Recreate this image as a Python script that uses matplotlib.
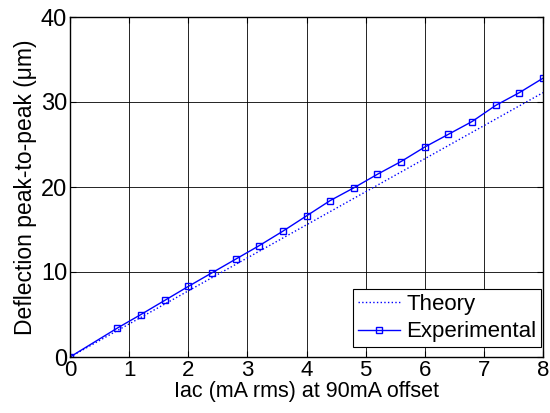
import matplotlib
matplotlib.use("Agg")
import matplotlib.pyplot as plt

plt.rcParams['font.family'] = ['Liberation Sans', 'DejaVu Sans']

x_exp = [0.0, 0.8, 1.2, 1.6, 2.0, 2.4, 2.8, 3.2, 3.6, 4.0, 4.4, 4.8, 5.2, 5.6, 6.0, 6.4, 6.8, 7.2, 7.6, 8.0]
y_exp = [0.0, 3.4, 5.0, 6.65, 8.3, 9.9, 11.5, 13.1, 14.8, 16.6, 18.4, 19.9, 21.5, 23.0, 24.7, 26.2, 27.7, 29.6, 31.1, 32.8]
x_theory = [0.0, 8.0]
y_theory = [0.0, 31.1]

fig = plt.figure(figsize=(5.5, 4.13), dpi=100)
ax = fig.add_axes([70/550, 1-357/413, (543-70)/550, (357-17)/413])

ax.plot(x_theory, y_theory, color='blue', linestyle=':', linewidth=1.0, label='Theory')
ax.plot(x_exp, y_exp, color='blue', linestyle='-', linewidth=1.0, marker='s',
        markersize=5, markerfacecolor='none', markeredgecolor='blue', markeredgewidth=1.0,
        label='Experimental')

ax.set_xlim(0, 8)
ax.set_ylim(0, 40)
ax.set_xticks(range(0, 9))
ax.set_yticks([0, 10, 20, 30, 40])
ax.grid(True, color='black', linestyle='-', linewidth=0.6)
ax.tick_params(direction='in', labelsize=17, length=4, top=True, right=True, pad=2)
ax.tick_params(axis='x', labelsize=16, pad=2)
for s in ax.spines.values():
    s.set_linewidth(1.0)
ax.set_xlabel('Iac (mA rms) at 90mA offset', fontsize=15.5, labelpad=0)
ax.set_ylabel('Deflection peak-to-peak (μm)', fontsize=16.5, labelpad=3)

leg = ax.legend(loc='lower right', bbox_to_anchor=(0.996, 0.03), fontsize=16, frameon=True,
                fancybox=False, edgecolor='black', framealpha=1, borderpad=0.2,
                handlelength=1.9, handletextpad=0.3, labelspacing=0.3, borderaxespad=0.0)
leg.get_frame().set_linewidth(0.8)

fig.savefig('out.png', dpi=100)
